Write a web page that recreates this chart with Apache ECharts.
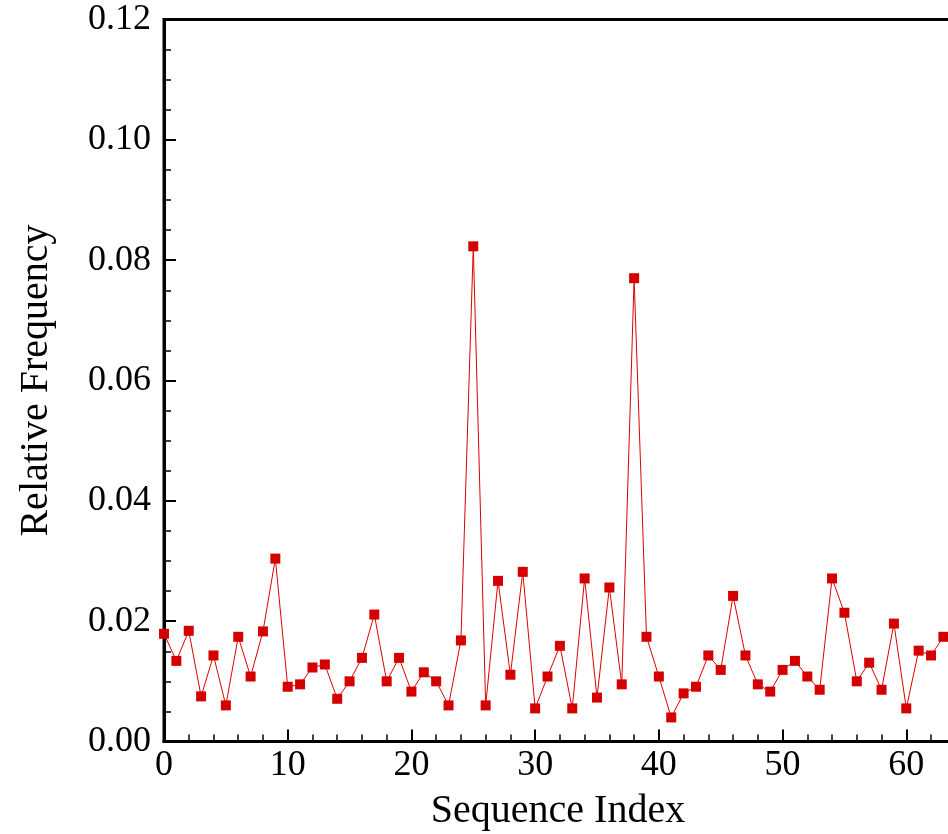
<!DOCTYPE html>
<html lang="en">
<head>
    <meta charset="UTF-8">
    <title>Relative Frequency</title>
    <script src="https://cdn.jsdelivr.net/npm/echarts@6/dist/echarts.min.js"></script>
    <style>
        html, body { margin: 0; padding: 0; background: #fff; }
        #main { width: 948px; height: 834px; }
    </style>
</head>
<body>
    <div id="main"></div>
    <script>
        // values, index 0..63
        var seqIndex = [];
        for (var i = 0; i < 64; i++) seqIndex.push(i);
        var relFreq = [
            0.0179, 0.0134, 0.0184, 0.0075, 0.0143, 0.0060, 0.0174, 0.0108, 0.0183, 0.0304,
            0.0091, 0.0095, 0.0123, 0.0128, 0.0071, 0.0100, 0.0139, 0.0211, 0.0100, 0.0139,
            0.0083, 0.0115, 0.0100, 0.0060, 0.0168, 0.0823, 0.0060, 0.0267, 0.0111, 0.0282,
            0.0055, 0.0108, 0.0159, 0.0055, 0.0271, 0.0073, 0.0256, 0.0095, 0.0770, 0.0174,
            0.0108, 0.0040, 0.0080, 0.0091, 0.0143, 0.0119, 0.0242, 0.0143, 0.0095, 0.0083,
            0.0119, 0.0134, 0.0108, 0.0086, 0.0271, 0.0214, 0.0100, 0.0131, 0.0086, 0.0196,
            0.0055, 0.0151, 0.0143, 0.0174
        ];
        var yTicks = [0, 0.02, 0.04, 0.06, 0.08, 0.10, 0.12];

        var seriesData = seqIndex.map(function (x, k) { return [x, relFreq[k]]; });

        var font = '"Liberation Serif", "Times New Roman", serif';
        var myChart = echarts.init(document.getElementById('main'), null, { renderer: 'canvas' });

        var option = {
            backgroundColor: '#fff',
            animation: false,
            grid: {
                left: 164,
                top: 19.5,
                bottom: 92.5,
                right: -82,   // axis runs to 70, the picture is cut at ~63
                outerBoundsMode: 'none',
                show: true,
                borderColor: '#000',
                borderWidth: 3,
                containLabel: false
            },
            xAxis: {
                type: 'value',
                min: 0,
                max: 70,
                interval: 10,
                name: 'Sequence Index',
                nameLocation: 'middle',
                nameGap: 50,
                // centre the name on the visible part of the axis
                nameTextStyle: { fontFamily: font, fontSize: 40, color: '#000', padding: [0, 78, 0, 0] },
                axisLine: { show: true, onZero: false, lineStyle: { color: '#000', width: 3 } },
                axisTick: { inside: true, length: 12, lineStyle: { color: '#000', width: 2 } },
                minorTick: { show: true, splitNumber: 5, length: 7, lineStyle: { color: '#000', width: 1.5 } },
                axisLabel: { fontFamily: font, fontSize: 36, color: '#000', margin: 6 },
                splitLine: { show: false }
            },
            yAxis: {
                type: 'value',
                min: yTicks[0],
                max: yTicks[yTicks.length - 1],
                interval: 0.02,
                name: 'Relative Frequency',
                nameLocation: 'middle',
                nameGap: 108,
                nameTextStyle: { fontFamily: font, fontSize: 40, color: '#000' },
                axisLine: { show: true, onZero: false, lineStyle: { color: '#000', width: 3 } },
                axisTick: { inside: true, length: 12, lineStyle: { color: '#000', width: 2 } },
                minorTick: { show: true, splitNumber: 4, length: 7, lineStyle: { color: '#000', width: 1.5 } },
                axisLabel: {
                    fontFamily: font, fontSize: 36, color: '#000', margin: 13,
                    formatter: function (v) { return v.toFixed(2); }
                },
                splitLine: { show: false }
            },
            series: [
                {
                    name: 'Relative Frequency',
                    type: 'line',
                    data: seriesData,
                    symbol: 'rect',
                    symbolSize: 10,
                    showAllSymbol: true,
                    itemStyle: { color: '#d40000' },
                    lineStyle: { color: '#e00000', width: 1 }
                }
            ]
        };
        myChart.setOption(option);
    </script>
</body>
</html>
